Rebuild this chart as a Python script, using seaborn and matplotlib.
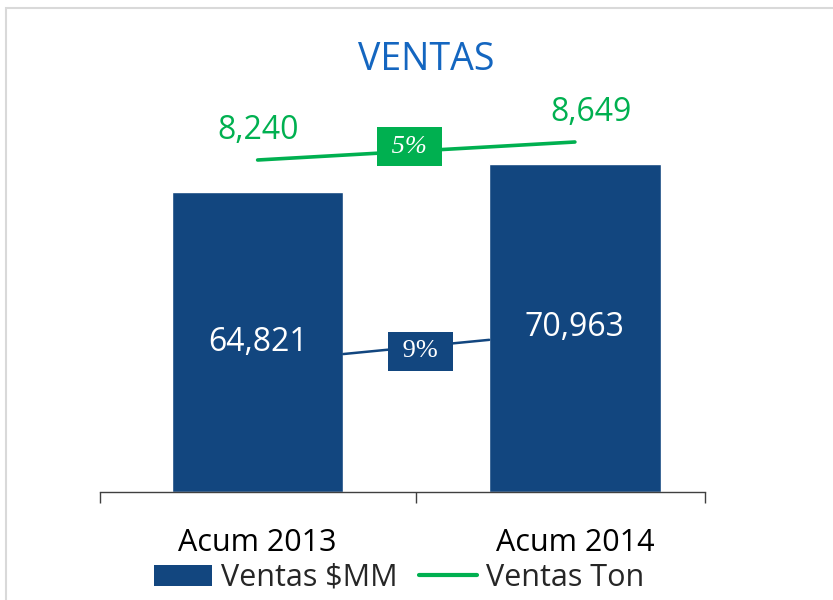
import numpy as np
import pandas as pd
import seaborn as sns
import matplotlib.pyplot as plt
from matplotlib.patches import Patch, Rectangle
from matplotlib.lines import Line2D

# datos
periodos = ["Acum 2013", "Acum 2014"]
ventas_mm = [64821, 70963]
ventas_ton = [8240, 8649]
series = ["Ventas $MM", "Ventas Ton"]

navy = "#12467F"
green = "#00B050"
titulo_color = "#1466C0"

df = pd.DataFrame({"periodo": periodos, "mm": ventas_mm})

sns.set_theme(style="white")
plt.rcParams['font.family'] = ['Open Sans', 'DejaVu Sans']

fig = plt.figure(figsize=(8.33, 6), dpi=100)
ax = fig.add_axes([0.12, 0.18, 0.7263, 0.6533])
sns.barplot(data=df, x="periodo", y="mm", color=navy, width=0.54,
            saturation=1, ax=ax)
ax.set_xlim(-0.497, 1.41)
ax.set_ylim(0, 84700)
ax.set_xlabel("")
ax.set_ylabel("")
ax.set_yticks([])
for s in ["left", "right", "top"]:
    ax.spines[s].set_visible(False)
ax.spines["bottom"].set_color("#404040")
ax.spines["bottom"].set_linewidth(1)
ax.set_xticks([0, 1])
ax.set_xticklabels(periodos)
ax.tick_params(axis="x", which="major", length=0, pad=26, labelsize=22,
               labelcolor="black")
ax.set_xticks([-0.497, 0.5, 1.41], minor=True)
ax.tick_params(axis="x", which="minor", bottom=True, length=8, width=1,
               color="#404040", direction="out")

# etiquetas dentro de las barras
for i, v in enumerate(ventas_mm):
    ax.text(i, v / 2, f"{v:,}", color="white", fontsize=23,
            ha="center", va="center")

# conector y crecimiento en $MM
off = 2600
ax.plot([0.27, 0.73], [ventas_mm[0] / 2 - off, ventas_mm[1] / 2 - off],
        color=navy, lw=1.8)
pct_mm = ventas_mm[1] / ventas_mm[0] - 1
ax.annotate(f" {pct_mm:.0%} ", (0.5, (ventas_mm[0] + ventas_mm[1]) / 4 - off),
            xytext=(3, -3), textcoords="offset points",
            color="white", fontsize=19,
            family=["Liberation Serif", "DejaVu Serif"],
            ha="center", va="center",
            bbox=dict(boxstyle="square,pad=0.32", fc=navy, ec="none"))

# linea de toneladas en eje secundario
ax2 = ax.twinx()
sns.lineplot(x=[0, 1], y=ventas_ton, ax=ax2, color=green, lw=2.6)
ax2.set_ylim(696, 9603)
ax2.set_yticks([])
ax2.set_ylabel("")
for s in ["left", "right", "top", "bottom"]:
    ax2.spines[s].set_visible(False)

for i, v in enumerate(ventas_ton):
    ax2.annotate(f"{v:,}", (i, v), xytext=(12 * i, 21),
                 textcoords="offset points", color=green, fontsize=23,
                 ha="center", va="center")

pct_ton = ventas_ton[1] / ventas_ton[0] - 1
ax2.annotate(f" {pct_ton:.0%} ", (0.5, np.mean(ventas_ton)), xytext=(-5, 3),
             textcoords="offset points", color="white", fontsize=19,
             family=["Liberation Serif", "DejaVu Serif"], style="italic",
             ha="center", va="center",
             bbox=dict(boxstyle="square,pad=0.32", fc=green, ec="none"))

fig.text(426 / 833, 0.9, "VENTAS", color=titulo_color, fontsize=27,
         ha="center", va="center")

handles = [Patch(fc=navy, ec="none"), Line2D([], [], color=green, lw=3)]
fig.legend(handles=handles, labels=series, loc="center",
           bbox_to_anchor=(399 / 833, 1 - 578 / 600), ncol=2, frameon=False,
           fontsize=22, handlelength=1.9, handletextpad=0.3, columnspacing=0.7,
           borderaxespad=0, borderpad=0)

fig.patches.append(Rectangle((6 / 833, -0.05), 1.0, 1.05 - 8 / 600,
                             transform=fig.transFigure, fill=False,
                             ec="#D9D9D9", lw=1.5))

fig.savefig("out.png", dpi=100)
